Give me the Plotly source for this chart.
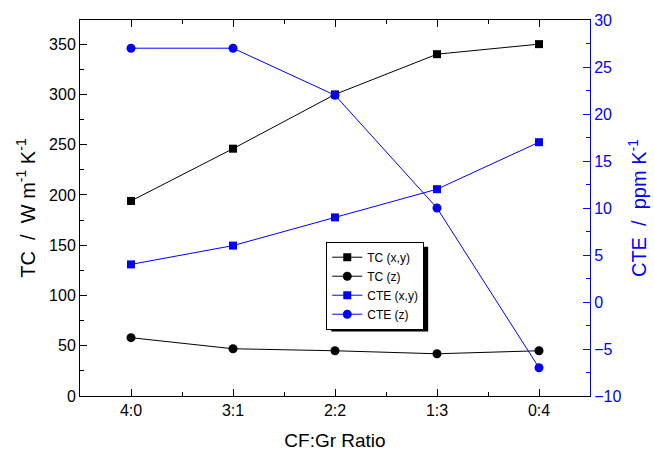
import plotly.graph_objects as go

categories = ["4:0", "3:1", "2:2", "1:3", "0:4"]
tc_xy = [194, 246, 300, 340, 350]
tc_z = [58, 47, 45, 42, 45]
cte_xy = [4, 6, 9, 12, 17]
cte_z = [27, 27, 22, 10, -7]

xs = list(range(len(categories)))
BLUE = "#0000FF"
FONT = "Liberation Sans, Arial, sans-serif"
SP = "\u00a0\u00a0"

fig = go.Figure()
fig.add_trace(go.Scatter(x=xs, y=tc_xy, name="TC (x,y)", mode="lines+markers",
                         line=dict(color="black", width=1),
                         marker=dict(symbol="square", size=8, color="black")))
fig.add_trace(go.Scatter(x=xs, y=tc_z, name="TC (z)", mode="lines+markers",
                         line=dict(color="black", width=1),
                         marker=dict(symbol="circle", size=9, color="black")))
fig.add_trace(go.Scatter(x=xs, y=cte_xy, name="CTE (x,y)", mode="lines+markers", yaxis="y2",
                         line=dict(color=BLUE, width=1),
                         marker=dict(symbol="square", size=8, color=BLUE)))
fig.add_trace(go.Scatter(x=xs, y=cte_z, name="CTE (z)", mode="lines+markers", yaxis="y2",
                         line=dict(color=BLUE, width=1),
                         marker=dict(symbol="circle", size=9, color=BLUE)))

# pixel -> paper conversion for legend placement and its shadow
L, R, T, B = 79.5, 590, 20, 396.5
W, H = R - L, B - T
def px(x): return (x - L) / W
def py(y): return (B - y) / H

LEG_X, LEG_Y = 326, 242
LEG_W, LEG_H = 97, 85
SH = 5
fig.add_shape(type="rect", xref="paper", yref="paper",
              x0=px(LEG_X + SH), x1=px(LEG_X + LEG_W + SH),
              y0=py(LEG_Y + LEG_H + SH), y1=py(LEG_Y + SH),
              fillcolor="black", line=dict(width=0), layer="above")

fig.update_layout(
    width=654, height=452,
    margin=dict(l=L, r=654 - R, t=T, b=452 - B),
    paper_bgcolor="white", plot_bgcolor="white",
    font=dict(family=FONT, size=16, color="black"),
    showlegend=True,
    legend=dict(x=px(LEG_X), y=py(LEG_Y), xanchor="left", yanchor="top",
                bgcolor="white", bordercolor="black", borderwidth=1,
                font=dict(size=12, family=FONT), tracegroupgap=0),
    xaxis=dict(range=[-0.5, 4.5], tickvals=xs, ticktext=categories, automargin=False,
               ticks="inside", ticklen=7, tickcolor="black",
               showline=True, linecolor="black", linewidth=1, mirror="ticks",
               showgrid=False, zeroline=False,
               minor=dict(dtick=0.5, tick0=-0.5, ticks="inside", ticklen=4, tickcolor="black"),
               title=dict(text="CF:Gr Ratio", font=dict(size=19), standoff=15)),
    yaxis=dict(range=[0, 374], tick0=0, dtick=50, automargin=False,
               ticks="inside", ticklen=7, tickcolor="black",
               showline=True, linecolor="black", linewidth=1,
               showgrid=False, zeroline=False,
               minor=dict(dtick=25, ticks="inside", ticklen=4, tickcolor="black"),
               title=dict(text=f"TC{SP}/{SP}W m<sup>-1</sup> K<sup>-1</sup>",
                          font=dict(size=20), standoff=8)),
    yaxis2=dict(range=[-10, 30], tick0=-10, dtick=5, overlaying="y", side="right", automargin=False,
                ticks="inside", ticklen=7, tickcolor=BLUE,
                showline=True, linecolor=BLUE, linewidth=1,
                showgrid=False, zeroline=False,
                tickfont=dict(color=BLUE),
                minor=dict(dtick=2.5, ticks="inside", ticklen=4, tickcolor=BLUE),
                title=dict(text=f"CTE{SP}/{SP}ppm K<sup>-1</sup>",
                           font=dict(size=20, color=BLUE), standoff=11)),
)

fig.write_html(
    "out.html",
    config={"displayModeBar": False},
    post_script="document.body.style.margin='0';document.documentElement.style.margin='0';",
)
